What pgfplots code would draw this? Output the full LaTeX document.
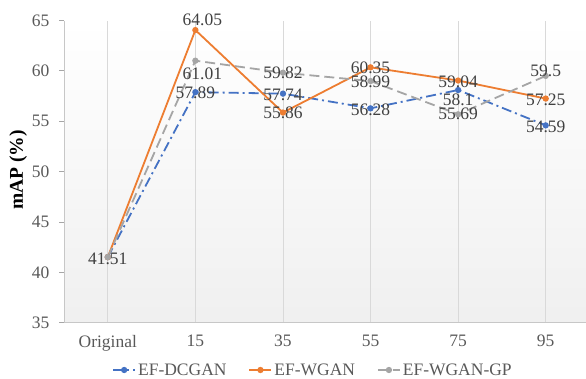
\documentclass[border=0pt]{standalone}
\usepackage{pgfplots}
\pgfplotsset{compat=1.18}
\usepackage{pgfplotstable}
\usepackage{fontspec}
\setmainfont{Liberation Serif}
\definecolor{cblue}{HTML}{4472C4}
\definecolor{corange}{HTML}{ED7D31}
\definecolor{cgray}{HTML}{A5A5A5}
\definecolor{ctext}{HTML}{595959}
\definecolor{clab}{HTML}{404040}
\definecolor{cgrid}{HTML}{D9D9D9}

\pgfplotstableread{
x y
0 41.51
1 57.89
2 57.74
3 56.28
4 58.1
5 54.59
}\dcgan
\pgfplotstableread{
x y
0 41.51
1 64.05
2 55.86
3 60.35
4 59.04
5 57.25
}\wgan
\pgfplotstableread{
x y
0 41.51
1 61.01
2 59.82
3 58.99
4 55.69
5 59.5
}\wgangp
\pgfplotstableread{
x y dx dy lab
0 41.51 0 -2 41.51
1 64.05 7 10 64.05
1 61.01 7 -13 61.01
1 57.89 0 -1 57.89
2 59.82 0 0 59.82
2 57.74 0 -1 57.74
2 55.86 0 -0.5 55.86
3 60.35 0 0 60.35
3 58.99 0 -1 58.99
3 56.28 0 -1 56.28
4 59.04 0 -1 59.04
4 58.1 0 -10 58.1
4 55.69 0 0 55.69
5 59.5 0 5 59.5
5 57.25 0 -1 57.25
5 54.59 0 -1 54.59
}\labels

\begin{document}
\begin{tikzpicture}
\useasboundingbox (0,0) rectangle (586pt,378pt);
\begin{axis}[
  at={(64pt,55.3pt)}, anchor=south west,
  scale only axis, width=522pt, height=302.2pt,
  xmin=-0.5, xmax=5.46, ymin=35, ymax=65,
  xtick={0,...,5}, xticklabels={Original,15,35,55,75,95},
  ytick={35,40,...,65},
  /pgf/number format/assume math mode=true,
  axis x line*=bottom, axis y line*=left,
  axis line style={draw=black!22, line width=0.9pt},
  tick align=outside, major tick length=5pt,
  xtick style={draw=none},
  ytick style={draw=black!35, line width=0.8pt},
  xmajorgrids, grid style={cgrid, line width=0.8pt},
  axis background/.style={top color=white, bottom color=black!6},
  tick label style={font=\fontsize{17.5}{20}\selectfont, text=ctext},
  xticklabel style={yshift=-4pt},
  yticklabel style={xshift=-6pt},
  ylabel={mAP (\%)},
  ylabel style={at={(axis description cs:-0.088,0.505)}, anchor=center,
    font=\fontsize{19.5}{22}\selectfont\bfseries, text=black},
  legend style={at={(axis description cs:0.477,-0.1565)}, anchor=center,
    draw=none, fill=none, legend columns=-1,
    /tikz/every even column/.append style={column sep=20pt},
    font=\fontsize{17.5}{20}\selectfont, text=ctext,
    inner sep=0pt},
  legend image code/.code={\draw[mark repeat=2,mark phase=2,#1] plot coordinates {(0pt,0pt) (11pt,0pt) (22pt,0pt)};},
  clip=false,
]
\addplot[cblue, line width=1.8pt, dash pattern=on 10pt off 4pt on 2pt off 4pt,
  mark=*, mark size=2.2pt, mark options={solid}] table[x=x,y=y] {\dcgan};
\addlegendentry{EF-DCGAN}
\addplot[corange, line width=1.8pt, mark=*, mark size=2.2pt] table[x=x,y=y] {\wgan};
\addlegendentry{EF-WGAN}
\addplot[cgray, line width=1.8pt, dash pattern=on 10pt off 5pt,
  mark=*, mark size=2.2pt, mark options={solid}] table[x=x,y=y] {\wgangp};
\addlegendentry{EF-WGAN-GP}
\addplot[draw=none, mark=none, forget plot,
  point meta=explicit symbolic,
  visualization depends on={\thisrow{dx} \as \dx},
  visualization depends on={\thisrow{dy} \as \dy},
  nodes near coords={\pgfplotspointmeta},
  nodes near coords style={anchor=center, xshift=\dx pt, yshift=\dy pt,
    font=\fontsize{17.5}{20}\selectfont, text=clab, inner sep=0pt},
] table[x=x, y=y, meta=lab] {\labels};
\end{axis}
\end{tikzpicture}
\end{document}
